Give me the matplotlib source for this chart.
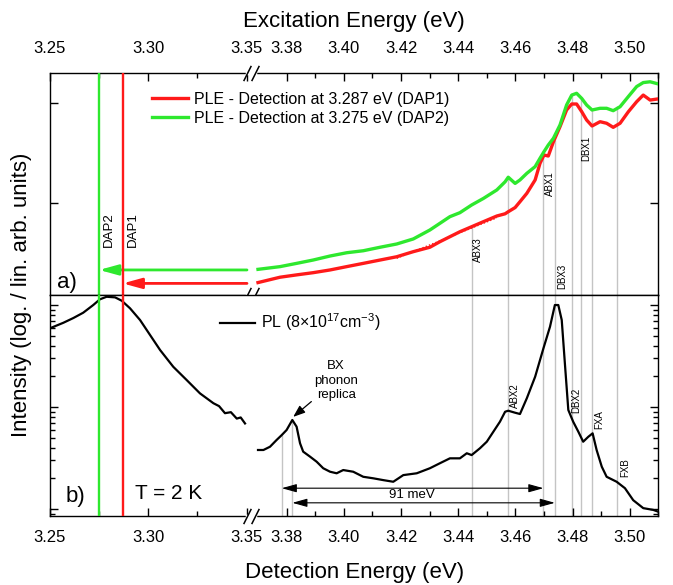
import numpy as np
import matplotlib
matplotlib.use("Agg")
import matplotlib.pyplot as plt
from matplotlib.ticker import FixedLocator, FixedFormatter, NullLocator
from matplotlib.transforms import blended_transform_factory

plt.rcParams["font.family"] = ["Liberation Sans", "DejaVu Sans"]
plt.rcParams["mathtext.fontset"] = "custom"
plt.rcParams["mathtext.rm"] = "Liberation Sans"
plt.rcParams["mathtext.it"] = "Liberation Sans:italic"

# ---- data ----
# PL spectrum, panel b (detection energy in eV, intensity arb. units)
pl_left_e = [3.2500, 3.2568, 3.2619, 3.2669, 3.2720, 3.2754, 3.2788, 3.2831,
             3.2865, 3.2907, 3.2958, 3.3009, 3.3060, 3.3127, 3.3195, 3.3263,
             3.3331, 3.3360, 3.3390, 3.3420, 3.3450, 3.3470, 3.3492]
pl_left_i = [59.2, 67.0, 74.6, 84.1, 100.0, 113.8, 120.5, 118.9,
             110.2, 92.9, 71.3, 50.8, 36.2, 24.8, 18.4, 13.6,
             10.9, 10.2, 8.7, 8.9, 7.7, 7.9, 6.9]
pl_right_e = [3.3700, 3.3719, 3.3742, 3.3765, 3.3783, 3.3800, 3.3820, 3.3835,
              3.3847, 3.3858, 3.3882, 3.3905, 3.3928, 3.3952, 3.3975, 3.3998,
              3.4033, 3.4068, 3.4103, 3.4138, 3.4173, 3.4208, 3.4255, 3.4301,
              3.4336, 3.4371, 3.4406, 3.4430, 3.4447, 3.4476, 3.4500, 3.4523,
              3.4546, 3.4564, 3.4575, 3.4599, 3.4616, 3.4640, 3.4669, 3.4698,
              3.4721, 3.4738, 3.4750, 3.4762, 3.4773, 3.4785, 3.4802, 3.4820,
              3.4837, 3.4855, 3.4870, 3.4884, 3.4902, 3.4919, 3.4954, 3.4983,
              3.5012, 3.5047, 3.5082, 3.5100]
pl_right_i = [3.79, 3.79, 4.08, 4.75, 5.31, 5.95, 7.46, 6.41,
              4.41, 3.65, 3.26, 2.91, 2.51, 2.32, 2.24, 2.41,
              2.32, 2.07, 2.00, 1.92, 1.85, 2.15, 2.24, 2.51,
              2.81, 3.14, 3.14, 3.52, 3.38, 3.94, 4.57, 5.73,
              7.18, 8.99, 9.20, 8.79, 8.54, 12.2, 19.8, 37.6,
              61.3, 100.0, 100.0, 71.3, 26.8, 9.35, 7.18, 5.73,
              4.57, 5.11, 5.52, 3.79, 2.60, 2.07, 1.85, 1.60,
              1.22, 1.02, 0.98, 0.94]

# PLE spectra, panel a (excitation energy in eV)
ple_e = [3.3700, 3.3777, 3.3835, 3.3893, 3.3952, 3.4010, 3.4068, 3.4127,
         3.4185, 3.4243, 3.4301, 3.4336, 3.4371, 3.4406, 3.4447, 3.4488,
         3.4535, 3.4564, 3.4575, 3.4599, 3.4616, 3.4640, 3.4669, 3.4686,
         3.4700, 3.4715, 3.4733, 3.4756, 3.4779, 3.4797, 3.4814, 3.4832,
         3.4849, 3.4868, 3.4896, 3.4919, 3.4942, 3.4966, 3.4995, 3.5024,
         3.5047, 3.5071, 3.5100]
ple_dap1 = [1.60, 1.81, 1.91, 2.01, 2.14, 2.31, 2.49, 2.69,
            2.90, 3.26, 3.61, 4.10, 4.60, 5.16, 5.79, 6.50,
            7.41, 7.80, 8.18, 9.0, 10.3, 12.5, 17.0, 24.9,
            30.2, 29.5, 41.0, 58.0, 85.1, 97.7, 97.7, 81.8,
            67.6, 58.9, 65.0, 62.7, 57.1, 62.7, 81.8, 103.0,
            120.0, 107.0, 110.0]
ple_dap2 = [2.17, 2.31, 2.49, 2.69, 2.95, 3.18, 3.33, 3.61,
            3.89, 4.37, 5.37, 6.26, 7.30, 8.00, 9.55, 11.1,
            13.5, 16.3, 18.1, 15.7, 17.0, 19.8, 23.1, 28.0,
            32.6, 38.0, 44.4, 60.3, 95.5, 120.0, 125.0, 111.0,
            95.5, 85.1, 88.5, 88.5, 83.8, 91.8, 116.0, 146.0,
            160.0, 163.0, 155.0]
ple_bg_e = [3.4185, 3.4535]
ple_bg_i = [2.80, 7.10]

dap_e = [3.287, 3.275]

# exciton line positions (eV)
line_e = [3.4447, 3.4575, 3.4698, 3.4738, 3.4799, 3.4829, 3.4869, 3.4956]
line_top_a = [5.8, 18.1, 30.2, 43.0, 125.0, 112.0, 88.0, 93.0]
bx_e = [3.3783, 3.3820]
bx_top = [5.31, 7.46]

red = "#ff1a1a"
green = "#2ee82e"
gray = "#c4c4c4"


# ---- broken energy axis ----
def fwd(x):
    x = np.asarray(x, dtype=float)
    left = (x - 3.25) * 1966.0
    gap = 196.6 + (x - 3.35) * (11.4 / 0.02)
    right = 208.0 + (x - 3.37) * 2860.0
    return np.where(x <= 3.35, left, np.where(x >= 3.37, right, gap))


def inv(u):
    u = np.asarray(u, dtype=float)
    left = 3.25 + u / 1966.0
    gap = 3.35 + (u - 196.6) * (0.02 / 11.4)
    right = 3.37 + (u - 208.0) / 2860.0
    return np.where(u <= 196.6, left, np.where(u >= 208.0, right, gap))


major_x = [3.25, 3.30, 3.35, 3.38, 3.40, 3.42, 3.44, 3.46, 3.48, 3.50]
minor_x = [3.275, 3.325, 3.39, 3.41, 3.43, 3.45, 3.47, 3.49, 3.51]

ylim_a = (1.202, 199.5)
ylim_b = (0.854, 125.4)

fig = plt.figure(figsize=(6.73, 5.85), dpi=100)
W, H = 673.0, 585.0
ax_a = fig.add_axes([50 / W, 1 - 295 / H, 608.4 / W, 222 / H])
ax_b = fig.add_axes([50 / W, 1 - 516 / H, 608.4 / W, 221 / H])

for ax in (ax_a, ax_b):
    ax.set_xscale("function", functions=(fwd, inv))
    ax.set_yscale("log")
    ax.set_xlim(3.25, 3.51)
    ax.xaxis.set_major_locator(FixedLocator(major_x))
    ax.xaxis.set_major_formatter(FixedFormatter(["%.2f" % v for v in major_x]))
    ax.xaxis.set_minor_locator(FixedLocator(minor_x))
    ax.tick_params(axis="both", which="both", direction="in", labelsize=12)
    ax.tick_params(axis="both", which="major", length=6, width=1)
    ax.tick_params(axis="both", which="minor", length=3.5, width=1)
    ax.tick_params(axis="y", which="both", left=True, right=True, labelleft=False)
    for s in ax.spines.values():
        s.set_linewidth(1.0)

ax_a.set_ylim(*ylim_a)
ax_b.set_ylim(*ylim_b)
ax_a.yaxis.set_minor_locator(NullLocator())

ax_a.tick_params(axis="x", which="both", top=True, bottom=False,
                 labeltop=True, labelbottom=False, pad=12)
ax_a.xaxis.set_label_position("top")
ax_b.tick_params(axis="x", which="both", top=False, bottom=True, pad=10)

for ax in (ax_a, ax_b):
    for t in ax.xaxis.get_major_ticks():
        if abs(t.get_loc() - 3.35) < 1e-6:
            t.tick1line.set_visible(False)
            t.tick2line.set_visible(False)

ax_a.set_xlabel("Excitation Energy (eV)", fontsize=16, labelpad=10)
ax_b.set_xlabel("Detection Energy (eV)", fontsize=16, labelpad=12)
fig.text(22 / W, 1 - 295 / H, "Intensity (log. / lin. arb. units)",
         rotation=90, ha="center", va="center", fontsize=16)

# ---- panel a: PLE ----
ax_a.vlines(line_e, ylim_a[0], line_top_a, color=gray, lw=1.0, zorder=1)
ax_a.plot(ple_bg_e, ple_bg_i, ls=(0, (1, 1.5)), color=red, lw=1.0, zorder=2)
l1, = ax_a.plot(ple_e, ple_dap1, color=red, lw=2.4, zorder=3,
                label="PLE - Detection at 3.287 eV (DAP1)")
l2, = ax_a.plot(ple_e, ple_dap2, color=green, lw=2.4, zorder=3,
                label="PLE - Detection at 3.275 eV (DAP2)")
ax_a.legend(handles=[l1, l2], loc="upper left", bbox_to_anchor=(0.167, 0.915),
            frameon=False, fontsize=11.5, handlelength=2.3, handletextpad=0.35,
            labelspacing=0.25, borderpad=0, borderaxespad=0)

for e, c, y in [(dap_e[1], green, 2.14), (dap_e[0], red, 1.57)]:
    ax_a.annotate("", xy=(e, y), xytext=(3.3507, y),
                  arrowprops=dict(arrowstyle="-|>,head_length=0.8,head_width=0.22",
                                  color=c, lw=2, shrinkA=0, shrinkB=0,
                                  mutation_scale=14))

ax_a.text(3.2797, 5.4, "DAP2", rotation=90, ha="center", va="center", fontsize=9.5)
ax_a.text(3.2924, 5.4, "DAP1", rotation=90, ha="center", va="center", fontsize=9.5)
for txt, e, y in [("ABX3", 3.4469, 3.39), ("ABX1", 3.4721, 15.7),
                  ("DBX3", 3.4765, 1.85), ("DBX1", 3.4849, 35.2)]:
    ax_a.text(e, y, txt, rotation=90, ha="center", va="center", fontsize=7)
ax_a.text(0.012, 0.055, "a)", transform=ax_a.transAxes, ha="left", va="center",
          fontsize=16)

# ---- panel b: PL ----
for e in line_e:
    ax_b.axvline(e, color=gray, lw=1.0, zorder=1)
ax_b.vlines(bx_e, ylim_b[0], bx_top, color=gray, lw=1.0, zorder=1)
ax_b.plot(pl_left_e, pl_left_i, color="black", lw=1.6, zorder=3)
lp, = ax_b.plot(pl_right_e, pl_right_i, color="black", lw=1.6, zorder=3,
                label="PL (8\u00d710$^{\\mathregular{17}}$cm$^{\\mathregular{-3}}$)")
ax_b.legend(handles=[lp], loc="upper left", bbox_to_anchor=(0.279, 0.925),
            frameon=False, fontsize=11.5, handlelength=2.2, handletextpad=0.4,
            borderpad=0, borderaxespad=0)

for ax in (ax_a, ax_b):
    ax.axvline(dap_e[0], color=red, lw=1.7, zorder=4)
    ax.axvline(dap_e[1], color=green, lw=1.7, zorder=4)

ax_b.annotate("", xy=(bx_e[0], 1.60), xytext=(line_e[2], 1.60),
              arrowprops=dict(arrowstyle="<|-|>,head_length=0.9,head_width=0.25",
                              color="black", lw=0.8, shrinkA=0, shrinkB=0,
                              mutation_scale=10))
ax_b.annotate("", xy=(bx_e[1], 1.15), xytext=(line_e[3], 1.15),
              arrowprops=dict(arrowstyle="<|-|>,head_length=0.9,head_width=0.25",
                              color="black", lw=0.8, shrinkA=0, shrinkB=0,
                              mutation_scale=10))
ax_b.text(3.4239, 1.36, "91 meV", ha="center", va="center", fontsize=9.5)

ax_b.annotate("BX\nphonon\nreplica", xy=(3.3823, 8.0), xytext=(3.3973, 18.1),
              ha="center", va="center", fontsize=9.5, linespacing=1.3,
              arrowprops=dict(arrowstyle="-|>,head_length=0.8,head_width=0.3",
                              color="black", lw=0.9, shrinkA=20, shrinkB=0,
                              mutation_scale=9))

for txt, e, y in [("ABX2", 3.4599, 12.8), ("DBX2", 3.4814, 11.7),
                  ("FXA", 3.4892, 7.46), ("FXB", 3.4983, 2.56)]:
    ax_b.text(e, y, txt, rotation=90, ha="center", va="center", fontsize=7)

ax_b.text(0.025, 0.087, "b)", transform=ax_b.transAxes, ha="left", va="center",
          fontsize=16)
ax_b.text(0.14, 0.103, "T = 2 K", transform=ax_b.transAxes, ha="left",
          va="center", fontsize=15)

# ---- break marks ----
for ax, ys in [(ax_a, [0.0, 1.0]), (ax_b, [0.0])]:
    tr = blended_transform_factory(ax.transData, ax.transAxes)
    for yv in ys:
        ax.plot([3.3505, 3.3640], [yv, yv], color="white", lw=2.5,
                transform=tr, clip_on=False, zorder=6)
        ax.plot([3.3500, 3.3655], [yv, yv], ls="none", marker=[(-1, -2), (1, 2)],
                ms=11, mec="black", mew=1.1, transform=tr, clip_on=False,
                zorder=7)

fig.savefig("out.png", dpi=100)
